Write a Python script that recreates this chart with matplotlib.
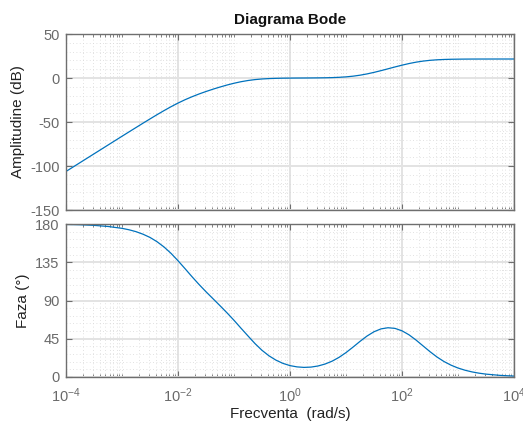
import numpy as np
import matplotlib
matplotlib.use("Agg")
import matplotlib.pyplot as plt
from matplotlib.ticker import FixedLocator, NullFormatter

plt.rcParams['font.family'] = ['Liberation Sans', 'DejaVu Sans']
plt.rcParams['axes.unicode_minus'] = False
plt.rcParams['mathtext.fontset'] = 'custom'
plt.rcParams['mathtext.rm'] = 'Liberation Sans'
plt.rcParams['mathtext.it'] = 'Liberation Sans:italic'
plt.rcParams['mathtext.bf'] = 'Liberation Sans:bold'

# log10 of frequency (rad/s)
log_freq = [-4.0, -3.75, -3.5, -3.25, -3.0, -2.875, -2.75, -2.625, -2.5, -2.375,
            -2.25, -2.125, -2.0, -1.875, -1.75, -1.625, -1.5, -1.375, -1.25, -1.125,
            -1.0, -0.875, -0.75, -0.625, -0.5, -0.375, -0.25, -0.125, 0.0, 0.125,
            0.25, 0.375, 0.5, 0.625, 0.75, 0.875, 1.0, 1.125, 1.25, 1.375,
            1.5, 1.625, 1.75, 1.875, 2.0, 2.125, 2.25, 2.375, 2.5, 2.625,
            2.75, 2.875, 3.0, 3.125, 3.25, 3.375, 3.5, 3.75, 4.0]
magnitude_db = [-106.2, -96.2, -86.2, -76.2, -66.2, -61.24, -56.3, -51.36, -46.5, -41.7,
                -37.07, -32.63, -28.5, -24.71, -21.3, -18.18, -15.35, -12.7, -10.26, -7.99,
                -5.97, -4.22, -2.85, -1.81, -1.11, -0.65, -0.39, -0.21, -0.12, -0.04,
                0.0, 0.06, 0.14, 0.25, 0.44, 0.77, 1.28, 2.07, 3.18, 4.64,
                6.39, 8.36, 10.45, 12.56, 14.58, 16.42, 17.98, 19.2, 20.08, 20.68,
                21.06, 21.28, 21.41, 21.48, 21.53, 21.55, 21.56, 21.58, 21.58]
phase_deg = [179.5, 179.1, 178.4, 177.1, 174.9, 173.2, 171.0, 168.0, 164.2, 159.2,
             153.0, 145.5, 136.8, 127.5, 118.0, 108.9, 100.3, 92.1, 83.9, 75.5,
             66.7, 57.4, 48.3, 39.3, 31.4, 24.9, 19.8, 16.0, 13.4, 11.9,
             11.3, 11.66, 12.95, 15.22, 18.57, 23.08, 28.7, 35.15, 41.9, 48.17,
             53.25, 56.61, 57.95, 57.19, 54.35, 49.64, 43.5, 36.64, 29.8, 23.53,
             18.2, 13.93, 10.57, 7.98, 6.0, 4.5, 3.38, 1.91, 1.07]

title = "Diagrama Bode"
ylabel_mag = "Amplitudine (dB)"
ylabel_phase = "Faza (°)"
xlabel = "Frecventa  (rad/s)"
mag_ticks = [-150, -100, -50, 0, 50]
phase_ticks = [0, 45, 90, 135, 180]
x_tick_exponents = [-4, -2, 0, 2, 4]

freq = [10 ** v for v in log_freq]

W, H = 523, 423
fig = plt.figure(figsize=(W / 100, H / 100), dpi=100)
ax1 = fig.add_axes([66 / W, 1 - 210 / H, 448 / W, 176 / H])
ax2 = fig.add_axes([66 / W, 1 - 377 / H, 448 / W, 153 / H])

line_color = '#0072BD'
spine_color = '#6e6e6e'
tick_label_color = '#6a6a6a'

major_x = [10.0 ** e for e in x_tick_exponents]
minor_x = []
for d in range(-4, 4):
    for m in range(1, 10):
        v = m * 10.0 ** d
        if not any(abs(v - M) / M < 1e-9 for M in major_x):
            minor_x.append(v)

for ax in (ax1, ax2):
    ax.set_xscale('log')
    ax.set_xlim(1e-4, 1e4)
    ax.xaxis.set_major_locator(FixedLocator(major_x))
    ax.xaxis.set_minor_locator(FixedLocator(minor_x))
    ax.xaxis.set_minor_formatter(NullFormatter())
    for s in ax.spines.values():
        s.set_color(spine_color)
        s.set_linewidth(1.0)
    ax.tick_params(which='both', direction='in', top=True, right=True,
                   color=spine_color, labelcolor=tick_label_color, labelsize=10.5)
    ax.tick_params(which='major', length=4.5, width=0.8)
    ax.tick_params(which='minor', length=2.5, width=0.6)
    ax.tick_params(axis='y', which='major', pad=4.5)
    ax.grid(True, which='major', color='#e3e3e3', linewidth=1.4, linestyle='-')
    ax.grid(True, which='minor', color='#d8d8d8', linewidth=0.6, linestyle=(0, (1, 3)))
    ax.set_axisbelow(True)

ax1.set_ylim(-150, 50)
ax1.set_yticks(mag_ticks)
ax1.yaxis.set_minor_locator(FixedLocator(list(range(-150, 51, 10))))
ax1.tick_params(axis='y', which='minor', length=0)
ax2.set_ylim(0, 180)
ax2.set_yticks(phase_ticks)
ax2.yaxis.set_minor_locator(FixedLocator(list(range(0, 181, 9))))
ax2.tick_params(axis='y', which='minor', length=0)

ax1.plot(freq, magnitude_db, color=line_color, linewidth=0.9)
ax2.plot(freq, phase_deg, color=line_color, linewidth=0.9)

ax1.tick_params(axis='x', which='both', labelbottom=False)
ax2.set_xticklabels([r'$\mathregular{10^{%d}}$' % e for e in x_tick_exponents])
ax2.tick_params(axis='x', which='major', pad=7)

ax1.set_title(title, fontsize=11, fontweight='bold', color='#111111', pad=7)
ax1.set_ylabel(ylabel_mag, fontsize=11, color='#222222')
ax2.set_ylabel(ylabel_phase, fontsize=11, color='#222222')
ax1.yaxis.set_label_coords(-0.0915, 0.5)
ax2.yaxis.set_label_coords(-0.080, 0.5)
ax2.set_xlabel(xlabel, fontsize=11, color='#222222', labelpad=1)

fig.savefig('out.png', dpi=100)
